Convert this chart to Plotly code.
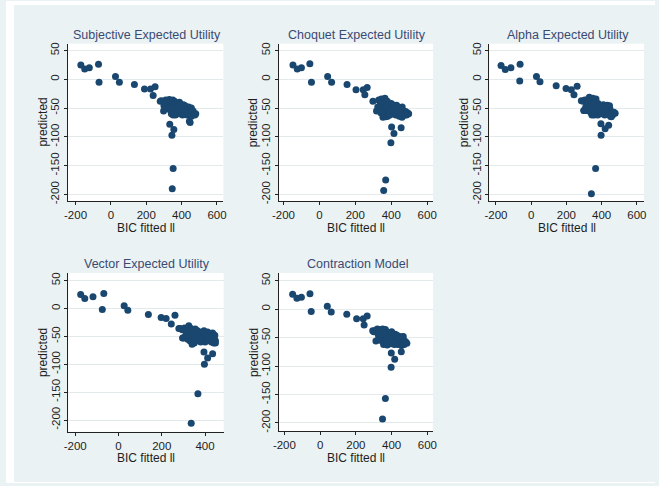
import plotly.graph_objects as go

W, H = 659, 486

titles = ["Subjective Expected Utility", "Choquet Expected Utility", "Alpha Expected Utility",
          "Vector Expected Utility", "Contraction Model"]
x_title = "BIC fitted ll"
y_title = "predicted"
y_ticks = [-200, -150, -100, -50, 0, 50]
y_ticklabels = ["-200", "-150", "-100", "-50", "0", "50"]
x_ticks_a = [-200, 0, 200, 400, 600]
x_ticklabels_a = ["-200", "0", "200", "400", "600"]
x_ticks_b = [-200, 0, 200, 400]
x_ticklabels_b = ["-200", "0", "200", "400"]

seu_x = [-170, -148, -122, -70, -67, 26, 48, 133, 190, 224, 250, 239, 279, 298, 333, 356, 345, 352, 347, 448, 444,
         285, 300, 310, 320, 330, 340, 350, 355, 360, 318, 328, 338, 345, 352, 362, 370, 375, 385, 392, 400, 408,
         415, 420, 428, 435, 440, 448, 455, 462, 470, 480, 330, 340, 350, 358, 365, 372, 380, 390, 398, 405, 412,
         420, 430, 445, 455, 370, 382, 395, 360, 425, 438, 342, 310, 300, 352, 388, 410, 465, 475]
seu_y = [25, 18, 20, 26, -5, 5, -5, -9, -17, -17, -13, -28, -38, -55, -78, -87, -97, -155, -190, -75, -73,
         -37, -40, -36, -38, -35, -37, -36, -40, -38, -45, -42, -44, -47, -45, -43, -46, -42, -48, -44, -50, -47,
         -52, -46, -50, -55, -48, -53, -50, -57, -60, -60, -52, -55, -52, -58, -62, -55, -58, -60, -56, -62, -58,
         -60, -62, -62, -64, -50, -53, -52, -50, -56, -58, -60, -50, -46, -62, -40, -44, -55, -62]

ceu_x = [-147, -123, -100, -53, -44, 46, 68, 154, 204, 244, 266, 253, 298, 318, 402, 455, 415, 398, 369, 358, 354, 461,
         330, 345, 355, 365, 372, 340, 350, 362, 375, 385, 395, 405, 415, 425, 435, 445, 455, 470, 480, 490, 497,
         335, 345, 355, 365, 375, 385, 395, 405, 415, 425, 435, 445, 455, 465, 475, 325, 362, 370, 380, 392, 410,
         420, 430, 440, 400, 388, 368, 350, 378, 450, 485, 460, 342, 400, 418]
ceu_y = [25, 18, 20, 27, -5, 5, -5, -9, -18, -18, -14, -27, -38, -55, -83, -84, -94, -110, -175, -193, -66, -48,
         -36, -34, -38, -33, -40, -42, -45, -44, -46, -43, -48, -46, -50, -48, -52, -50, -53, -55, -56, -58, -60,
         -50, -55, -52, -57, -53, -58, -55, -60, -57, -62, -60, -64, -62, -60, -62, -48, -62, -65, -64, -62, -52,
         -55, -45, -56, -42, -50, -50, -60, -38, -58, -62, -66, -58, -53, -45]

aeu_x = [-171, -147, -115, -63, -65, 30, 50, 142, 198, 228, 261, 243, 285, 299, 396, 420, 440, 397, 366, 342, 477,
         295, 305, 315, 322, 330, 340, 350, 360, 368, 310, 318, 326, 335, 345, 355, 365, 375, 385, 395, 405, 415,
         425, 432, 440, 448, 455, 462, 470, 300, 315, 330, 340, 350, 358, 368, 378, 388, 398, 408, 418, 428, 438,
         450, 455, 345, 360, 380, 392, 410, 422, 372, 335, 400, 362, 420, 445]
aeu_y = [24, 17, 20, 26, -3, 5, -4, -11, -16, -18, -12, -27, -37, -54, -77, -86, -80, -97, -155, -199, -59,
         -38, -36, -39, -35, -31, -36, -33, -37, -34, -48, -44, -42, -46, -44, -48, -45, -50, -47, -52, -49, -53,
         -50, -45, -55, -52, -58, -62, -57, -54, -54, -55, -58, -53, -62, -58, -62, -56, -60, -57, -62, -58, -60,
         -64, -65, -62, -55, -42, -45, -44, -47, -53, -50, -55, -41, -55, -46]

veu_x = [-175, -156, -118, -68, -75, 26, 43, 138, 197, 220, 261, 244, 279, 296, 395, 412, 435, 397, 367, 336,
         285, 295, 305, 315, 325, 335, 345, 355, 360, 300, 312, 322, 332, 340, 350, 358, 366, 374, 382, 390, 398,
         406, 412, 418, 424, 430, 436, 442, 448, 448, 440, 430, 420, 410, 400, 390, 380, 370, 360, 350, 340, 330,
         320, 310, 345, 365, 375, 385, 395, 405, 415, 425, 435, 355, 380, 340, 445, 320]
veu_y = [25, 18, 21, 27, -2, 5, -3, -11, -16, -18, -12, -28, -36, -53, -78, -89, -81, -100, -153, -206,
         -36, -38, -35, -37, -31, -36, -40, -37, -44, -53, -48, -44, -42, -47, -45, -50, -47, -42, -50, -46, -52,
         -49, -42, -48, -53, -50, -56, -52, -58, -62, -62, -60, -58, -55, -60, -57, -60, -55, -58, -62, -64, -58,
         -55, -50, -52, -40, -52, -43, -40, -45, -52, -46, -44, -55, -57, -58, -48, -40]

con_x = [-154, -130, -105, -57, -50, 40, 62, 149, 204, 241, 263, 246, 294, 312, 398, 417, 454, 397, 365, 349, 461, 479,
         300, 310, 320, 330, 340, 350, 358, 365, 372, 325, 335, 345, 355, 362, 370, 378, 386, 394, 402, 410, 418,
         426, 434, 442, 450, 458, 465, 472, 478, 485, 355, 365, 375, 385, 395, 405, 415, 425, 435, 445, 455, 462,
         340, 350, 390, 400, 420, 380, 430, 370, 410, 445, 330, 360, 452, 470]
con_y = [26, 19, 21, 27, -4, 5, -5, -9, -17, -17, -12, -28, -38, -56, -77, -88, -75, -102, -157, -193, -49, -58,
         -40, -37, -35, -38, -36, -35, -38, -36, -40, -45, -42, -47, -44, -50, -46, -52, -48, -53, -47, -51, -46,
         -50, -54, -52, -56, -50, -48, -56, -58, -60, -62, -58, -63, -58, -61, -57, -62, -58, -62, -60, -64, -62,
         -55, -52, -44, -40, -44, -42, -46, -55, -56, -48, -50, -42, -50, -62]

xs = [seu_x, ceu_x, aeu_x, veu_x, con_x]
ys = [seu_y, ceu_y, aeu_y, veu_y, con_y]

# panel geometry in pixels: (left, right, top, bottom), axis ranges
panels = [
    dict(px=(62.7, 220.7, 43, 202), xr=(-244, 636), yr=(-212, 62), xt=(x_ticks_a, x_ticklabels_a)),
    dict(px=(276.7, 433.7, 43, 202), xr=(-227.5, 633), yr=(-212, 62), xt=(x_ticks_a, x_ticklabels_a)),
    dict(px=(490.7, 647.7, 43, 202), xr=(-238, 640), yr=(-212, 62), xt=(x_ticks_a, x_ticklabels_a)),
    dict(px=(63.3, 221.0, 274.3, 434.3), xr=(-232, 486), yr=(-221, 63.5), xt=(x_ticks_b, x_ticklabels_b)),
    dict(px=(276.7, 433.7, 274.3, 434.0), xr=(-233, 632), yr=(-215, 63.4), xt=(x_ticks_a, x_ticklabels_a)),
]

FONT = "Liberation Sans, Arial, sans-serif"
TXT = "#1e1e1e"
TITLE_C = "#3a4a73"
MARK = "#1a476f"
GRID = "#e2eaec"
BG = "#eaf2f3"

fig = go.Figure()
layout = dict(
    width=W, height=H, margin=dict(l=0, r=0, t=0, b=0),
    paper_bgcolor=BG, plot_bgcolor="white", showlegend=False,
    font=dict(family=FONT, color=TXT, size=11),
)
annotations = []
# thin white page border strips (left, top, bottom)
shapes = [
    dict(type="rect", xref="paper", yref="paper", x0=0, x1=8 / W, y0=0, y1=1,
         fillcolor="white", line=dict(width=0), layer="above"),
    dict(type="rect", xref="paper", yref="paper", x0=0, x1=1, y0=1 - 4 / H, y1=1,
         fillcolor="white", line=dict(width=0), layer="above"),
    dict(type="rect", xref="paper", yref="paper", x0=0, x1=1, y0=0, y1=1 / H,
         fillcolor="white", line=dict(width=0), layer="above"),
]

for i, p in enumerate(panels):
    l, r, t, b = p["px"]
    xa = "xaxis" if i == 0 else f"xaxis{i+1}"
    ya = "yaxis" if i == 0 else f"yaxis{i+1}"
    xref = "x" if i == 0 else f"x{i+1}"
    yref = "y" if i == 0 else f"y{i+1}"
    fig.add_trace(go.Scatter(x=xs[i], y=ys[i], mode="markers", xaxis=xref, yaxis=yref,
                             marker=dict(color=MARK, size=7, line=dict(width=0)), hoverinfo="skip"))
    layout[xa] = dict(domain=[l / W, r / W], range=list(p["xr"]), anchor=yref,
                      tickvals=p["xt"][0], ticktext=p["xt"][1], ticks="outside", ticklen=3,
                      tickcolor="#222", showline=True, linecolor="#222", linewidth=1,
                      showgrid=False, zeroline=False, tickfont=dict(size=11.5, color=TXT))
    layout[ya] = dict(domain=[1 - b / H, 1 - t / H], range=list(p["yr"]), anchor=xref,
                      tickvals=y_ticks, ticktext=y_ticklabels, ticks="outside", ticklen=3,
                      tickcolor="#222", showline=True, linecolor="#222", linewidth=1, tickangle=-90,
                      showgrid=True, gridcolor=GRID, gridwidth=1, zeroline=False,
                      tickfont=dict(size=11.5, color=TXT))
    cx = (l + r) / 2
    cy = (t + b) / 2
    annotations.append(dict(text=titles[i], x=(cx + 1.5) / W, y=1 - (t - 9) / H, xref="paper", yref="paper",
                            showarrow=False, xanchor="center", yanchor="middle",
                            font=dict(size=12.5, color=TITLE_C, family=FONT)))
    annotations.append(dict(text=x_title, x=cx / W, y=1 - (b + 26.5) / H, xref="paper", yref="paper",
                            showarrow=False, xanchor="center", yanchor="middle",
                            font=dict(size=12, color=TXT, family=FONT)))
    annotations.append(dict(text=y_title, x=(l - 25) / W, y=1 - cy / H, xref="paper", yref="paper",
                            showarrow=False, xanchor="center", yanchor="middle", textangle=-90,
                            font=dict(size=12, color=TXT, family=FONT)))

layout["annotations"] = annotations
layout["shapes"] = shapes
fig.update_layout(**layout)
fig.write_html("out.html", config={"displayModeBar": False},
               post_script="document.body.style.margin='0px';")
